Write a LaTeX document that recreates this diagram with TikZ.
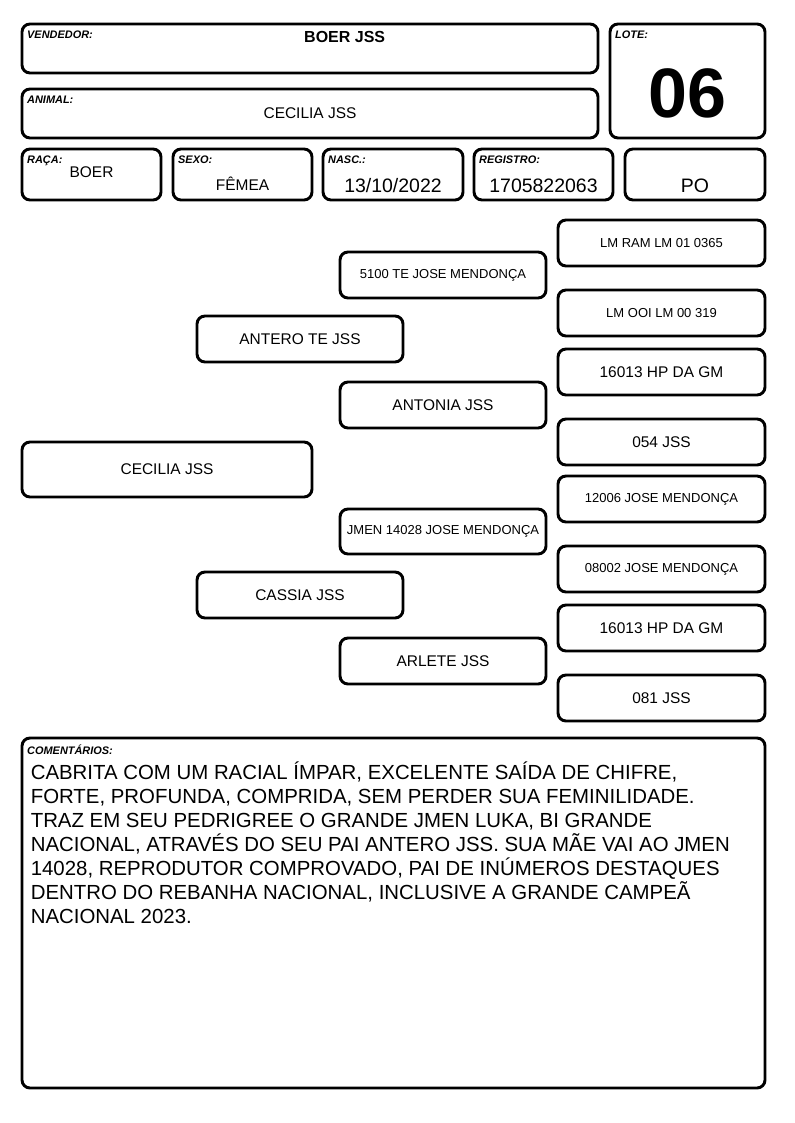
\documentclass[tikz,border=0pt]{standalone}
\usepackage{fontspec}
\setmainfont{Liberation Sans}
\usetikzlibrary{fit}
\tikzset{cell/.style={rectangle, rounded corners=6pt, line width=2.2pt, draw, inner sep=0pt}}
\tikzset{tag/.style={anchor=north west, inner sep=0pt, xshift=4.8pt, yshift=-6pt,
   font=\fontsize{8.2}{9}\selectfont\bfseries\itshape}}
\tikzset{val/.style={font=\fontsize{11.6}{14}\selectfont}}
\tikzset{sml/.style={font=\fontsize{9.75}{12}\selectfont}}
\tikzset{big/.style={font=\fontsize{14.6}{17}\selectfont}}

\begin{document}
\begin{tikzpicture}[x=0.75pt, y=-0.75pt]

    \useasboundingbox (0,0) rectangle (794,1123);

    % cabecalho
    \node[cell, fit={(22,24) (598,73)}, label={[tag]north west:{VENDEDOR:}},
      label={[xshift=26pt, yshift=8.6pt, font=\fontsize{12}{14}\selectfont\bfseries]center:BOER JSS}] (vendedor) {};
    \node[cell, fit={(610,24) (765,138)}, label={[tag]north west:{LOTE:}},
      label={[yshift=-9pt, font=\fontsize{52.5}{60}\selectfont\bfseries]center:06}] (lote) {};
    \node[cell, fit={(22,89) (598,138)}, label={[tag]north west:{ANIMAL:}},
      label={[val]center:CECILIA JSS}] (animal) {};

    \node[cell, fit={(22,149) (161,200)}, label={[tag]north west:{RAÇA:}},
      label={[val, yshift=1.9pt]center:BOER}] (raca) {};
    \node[cell, fit={(173,149) (312,200)}, label={[tag]north west:{SEXO:}},
      label={[val, yshift=-7.1pt]center:FÊMEA}] (sexo) {};
    \node[cell, fit={(323,149) (463,200)}, label={[tag]north west:{NASC.:}},
      label={[big, yshift=-8.6pt]center:13/10/2022}] (nasc) {};
    \node[cell, fit={(474,149) (613,200)}, label={[tag]north west:{REGISTRO:}},
      label={[big, yshift=-8.6pt]center:1705822063}] (registro) {};
    \node[cell, fit={(625,149) (765,200)}, label={[big, yshift=-8.6pt]center:PO}] (po) {};

    % pedigree
    \node[cell, fit={(22,442) (312,497)}, label={[val]center:CECILIA JSS}] (filha) {};
    \node[cell, fit={(197,316) (403,362)}, label={[val]center:ANTERO TE JSS}] (pai) {};
    \node[cell, fit={(197,572) (403,618)}, label={[val]center:CASSIA JSS}] (mae) {};

    \node[cell, fit={(340,252) (546,298)}, label={[sml]center:5100 TE JOSE MENDONÇA}] (pai-pai) {};
    \node[cell, fit={(340,382) (546,428)}, label={[val]center:ANTONIA JSS}] (pai-mae) {};
    \node[cell, fit={(340,509) (546,554)}, label={[sml]center:JMEN 14028 JOSE MENDONÇA}] (mae-pai) {};
    \node[cell, fit={(340,638) (546,684)}, label={[val]center:ARLETE JSS}] (mae-mae) {};

    \node[cell, fit={(558,220) (765,266)}, label={[sml]center:LM RAM LM 01 0365}] (bis-1) {};
    \node[cell, fit={(558,290) (765,336)}, label={[sml]center:LM OOI LM 00 319}]  (bis-2) {};
    \node[cell, fit={(558,349) (765,395)}, label={[val]center:16013 HP DA GM}]    (bis-3) {};
    \node[cell, fit={(558,419) (765,465)}, label={[val]center:054 JSS}]           (bis-4) {};
    \node[cell, fit={(558,476) (765,522)}, label={[sml]center:12006 JOSE MENDONÇA}] (bis-5) {};
    \node[cell, fit={(558,546) (765,592)}, label={[sml]center:08002 JOSE MENDONÇA}] (bis-6) {};
    \node[cell, fit={(558,605) (765,651)}, label={[val]center:16013 HP DA GM}]    (bis-7) {};
    \node[cell, fit={(558,675) (765,721)}, label={[val]center:081 JSS}]           (bis-8) {};

    % comentarios
    \node[cell, fit={(22,738) (765,1088)}, label={[tag]north west:{COMENTÁRIOS:}},
      label={[anchor=north west, inner sep=0pt, xshift=7.5pt, yshift=-19pt, align=left,
        font=\fontsize{15.3}{18}\selectfont]north west:{CABRITA COM UM RACIAL ÍMPAR, EXCELENTE SAÍDA DE CHIFRE,\\
        FORTE, PROFUNDA, COMPRIDA, SEM PERDER SUA FEMINILIDADE.\\
        TRAZ EM SEU PEDRIGREE O GRANDE JMEN LUKA, BI GRANDE\\
        NACIONAL, ATRAVÉS DO SEU PAI ANTERO JSS. SUA MÃE VAI AO JMEN\\
        14028, REPRODUTOR COMPROVADO, PAI DE INÚMEROS DESTAQUES\\
        DENTRO DO REBANHA NACIONAL, INCLUSIVE A GRANDE CAMPEÃ\\
        NACIONAL 2023.}}] (coment) {};

  \end{tikzpicture}
\end{document}
